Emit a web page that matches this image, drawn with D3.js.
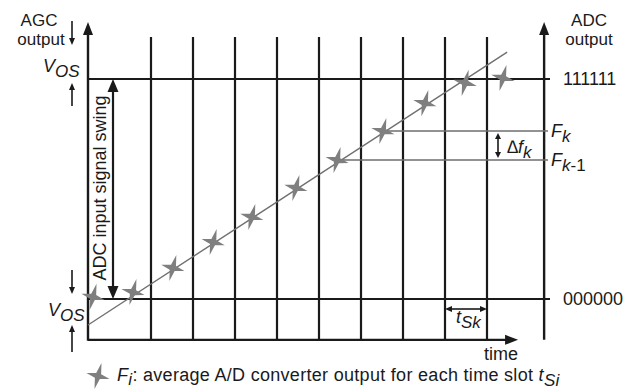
<!DOCTYPE html>
<html>
<head>
<meta charset="utf-8">
<script src="https://cdn.jsdelivr.net/npm/d3@7"></script>
<style>
  body { margin: 0; background: #fff; }
  text { font-family: "Liberation Sans", Arial, sans-serif; fill: #1a1a1a; }
  .it { font-style: italic; }
</style>
</head>
<body>
<script>
// time slots (slot boundaries at integer values) and ADC levels (0 .. 63)
var slotLines = [1, 2, 3, 4, 5, 6, 7, 8, 9];
var starT     = [-0.38, 0.57, 1.52, 2.48, 3.40, 4.45, 5.43, 6.52, 7.52, 8.48, 9.38];
var starLevel = [0.6, 2.0, 8.9, 16.3, 23.5, 31.8, 39.8, 48.1, 56.1, 61.9, 63.3];
var rampT     = [-0.5, 9.48];
var rampLevel = [-7.45, 70.7];
var adcCodes  = ["111111", "000000"];
var adcLevels = [63, 0];
var kIndex = 7;  // star used for F_k, the one before is F_k-1

var w = 638, h = 392;

var svg = d3.select("body").append("svg")
    .attr("width", w)
    .attr("height", h);

var x = d3.scaleLinear().domain([0, 10]).range([109, 529]);
var y = d3.scaleLinear().domain([0, 63]).range([299, 79]);

var tLeft = -0.5, tRight = 10.36, tGridEnd = 10.5, tTimeEnd = 9.74;
var lvBottom = -11.7, lvGridTop = 75.0, lvAxisTop = 79.3;

function arrowHead(g, x2, y2, angle, len, wid) {
  // triangle with tip at (x2, y2) pointing along angle (radians)
  var c = Math.cos(angle), s = Math.sin(angle);
  var bx = x2 - c * len, by = y2 - s * len;
  var pts = [[x2, y2], [bx - s * wid / 2, by + c * wid / 2], [bx + s * wid / 2, by - c * wid / 2]];
  g.append("path")
    .attr("d", "M" + pts.join("L") + "Z")
    .attr("fill", "#1a1a1a");
}

function arrow(g, x1, y1, x2, y2, sw, len, wid, both) {
  var a = Math.atan2(y2 - y1, x2 - x1);
  var c = Math.cos(a), s = Math.sin(a);
  g.append("line")
    .attr("x1", both ? x1 + c * len * 0.8 : x1).attr("y1", both ? y1 + s * len * 0.8 : y1)
    .attr("x2", x2 - c * len * 0.8).attr("y2", y2 - s * len * 0.8)
    .attr("stroke", "#1a1a1a").attr("stroke-width", sw);
  arrowHead(g, x2, y2, a, len, wid);
  if (both) arrowHead(g, x1, y1, a + Math.PI, len, wid);
}

// grid: vertical slot lines
svg.append("g").selectAll("line")
    .data(slotLines)
    .enter().append("line")
    .attr("x1", function(d) { return x(d); })
    .attr("x2", function(d) { return x(d); })
    .attr("y1", y(lvGridTop))
    .attr("y2", y(lvBottom))
    .attr("stroke", "#1a1a1a")
    .attr("stroke-width", 2.2);

// horizontal code lines
svg.append("g").selectAll("line")
    .data(adcLevels)
    .enter().append("line")
    .attr("x1", x(tLeft))
    .attr("x2", x(tGridEnd))
    .attr("y1", function(d) { return y(d); })
    .attr("y2", function(d) { return y(d); })
    .attr("stroke", "#1a1a1a")
    .attr("stroke-width", 2.2);

// right axis line down to the time axis
svg.append("line")
    .attr("x1", x(tRight)).attr("x2", x(tRight))
    .attr("y1", y(lvBottom)).attr("y2", y(lvAxisTop) + 8)
    .attr("stroke", "#1a1a1a").attr("stroke-width", 2.4);
arrowHead(svg, x(tRight), y(lvAxisTop), -Math.PI / 2, 13, 10);

// left axis
svg.append("line")
    .attr("x1", x(tLeft)).attr("x2", x(tLeft))
    .attr("y1", y(lvBottom) + 1).attr("y2", y(lvAxisTop) + 8)
    .attr("stroke", "#1a1a1a").attr("stroke-width", 2.4);
arrowHead(svg, x(tLeft), y(lvAxisTop), -Math.PI / 2, 13, 10);

// time axis
svg.append("line")
    .attr("x1", x(tLeft)).attr("x2", x(tTimeEnd) - 8)
    .attr("y1", y(lvBottom)).attr("y2", y(lvBottom))
    .attr("stroke", "#1a1a1a").attr("stroke-width", 2.4);
arrowHead(svg, x(tTimeEnd), y(lvBottom), 0, 13, 10);

// F_k and F_k-1 reference lines
svg.append("g").selectAll("line")
    .data([kIndex, kIndex - 1])
    .enter().append("line")
    .attr("x1", function(i) { return x(starT[i]); })
    .attr("x2", x(tGridEnd) - 2)
    .attr("y1", function(i) { return y(starLevel[i]); })
    .attr("y2", function(i) { return y(starLevel[i]); })
    .attr("stroke", "#6e6e6e")
    .attr("stroke-width", 1.4);

// ramp
svg.append("line")
    .attr("x1", x(rampT[0])).attr("y1", y(rampLevel[0]))
    .attr("x2", x(rampT[1])).attr("y2", y(rampLevel[1]))
    .attr("stroke", "#707070")
    .attr("stroke-width", 1.4);

// stars
function starPath(rv, rh, r) {
  var p = [];
  var radii = [rv, r, rh, r, rv, r, rh, r];
  for (var i = 0; i < 8; i++) {
    var a = -Math.PI / 2 + i * Math.PI / 4;
    p.push([radii[i] * Math.cos(a), radii[i] * Math.sin(a)]);
  }
  return "M" + p.join("L") + "Z";
}
var starD = starPath(13.5, 12, 3.6);

svg.append("g").selectAll("path")
    .data(starT)
    .enter().append("path")
    .attr("d", starD)
    .attr("transform", function(d, i) {
      return "translate(" + x(d) + "," + y(starLevel[i]) + ") rotate(15)";
    })
    .attr("fill", "#7f7f7f");

// ADC input signal swing
arrow(svg, 113, y(0), 113, y(63), 2.2, 13, 11, true);
svg.append("text")
    .attr("transform", "translate(106," + 188 + ") rotate(-90)")
    .attr("text-anchor", "middle")
    .attr("font-size", 18)
    .text("ADC input signal swing");

// left labels
svg.append("text").attr("x", 39).attr("y", 26).attr("text-anchor", "middle")
    .attr("font-size", 17).text("AGC");
svg.append("text").attr("x", 41).attr("y", 45).attr("text-anchor", "middle")
    .attr("font-size", 17).text("output");
arrow(svg, 72, 21, 72, 45, 1.6, 7, 6, false);

function vos(xp, yp) {
  var t = svg.append("text").attr("x", xp).attr("y", yp).attr("class", "it").attr("font-size", 18);
  t.append("tspan").text("V");
  t.append("tspan").attr("dy", 5).attr("font-size", 17).text("OS");
}
vos(43, 72);
arrow(svg, 72, 106, 72, 83, 1.6, 7, 6, false);
arrow(svg, 72, 270, 72, 294, 1.6, 7, 6, false);
vos(48, 316);
arrow(svg, 72, 352, 72, 325, 1.6, 7, 6, false);

// right labels
svg.append("text").attr("x", 589).attr("y", 26).attr("text-anchor", "middle")
    .attr("font-size", 17).text("ADC");
svg.append("text").attr("x", 589).attr("y", 45).attr("text-anchor", "middle")
    .attr("font-size", 17).text("output");
svg.append("g").selectAll("text")
    .data(adcCodes)
    .enter().append("text")
    .attr("x", 563)
    .attr("y", function(d, i) { return y(adcLevels[i]) + 6; })
    .attr("font-size", 18)
    .text(function(d) { return d; });

// F_k labels
var fk = svg.append("text").attr("x", 551).attr("y", y(starLevel[kIndex]) + 6).attr("class", "it").attr("font-size", 18);
fk.append("tspan").text("F");
fk.append("tspan").attr("dy", 5).attr("font-size", 17).text("k");
var fk1 = svg.append("text").attr("x", 551).attr("y", y(starLevel[kIndex - 1]) + 6).attr("class", "it").attr("font-size", 18);
fk1.append("tspan").text("F");
fk1.append("tspan").attr("dy", 5).attr("font-size", 17).text("k");
fk1.append("tspan").attr("font-style", "normal").attr("font-size", 17).text("-1");

// delta f_k
arrow(svg, 498, y(starLevel[kIndex]) + 2, 498, y(starLevel[kIndex - 1]) - 2, 1.6, 6, 6, true);
var df = svg.append("text").attr("x", 507).attr("y", 153).attr("class", "it").attr("font-size", 18);
df.append("tspan").text("\u2206f");
df.append("tspan").attr("dy", 5).attr("font-size", 17).text("k");

// t_Sk
arrow(svg, x(8), 309, x(9), 309, 1.6, 7, 6, true);
var ts = svg.append("text").attr("x", 456).attr("y", 323).attr("class", "it").attr("font-size", 18);
ts.append("tspan").text("t");
ts.append("tspan").attr("dy", 5).attr("font-size", 17).text("Sk");

svg.append("text").attr("x", 501).attr("y", 360).attr("text-anchor", "middle")
    .attr("font-size", 18).text("time");

// legend
svg.append("path")
    .attr("d", starD)
    .attr("transform", "translate(98,376) rotate(15)")
    .attr("fill", "#7f7f7f");
var lg = svg.append("text").attr("x", 117).attr("y", 381).attr("font-size", 18)
    .attr("letter-spacing", 0.3);
lg.append("tspan").attr("class", "it").text("F");
lg.append("tspan").attr("class", "it").attr("dy", 4).attr("font-size", 17).text("i");
lg.append("tspan").attr("dy", -4).text(": average A/D converter output for each time slot ");
lg.append("tspan").attr("class", "it").text("t");
lg.append("tspan").attr("class", "it").attr("dy", 5).attr("font-size", 17).text("Si");
</script>
</body>
</html>
